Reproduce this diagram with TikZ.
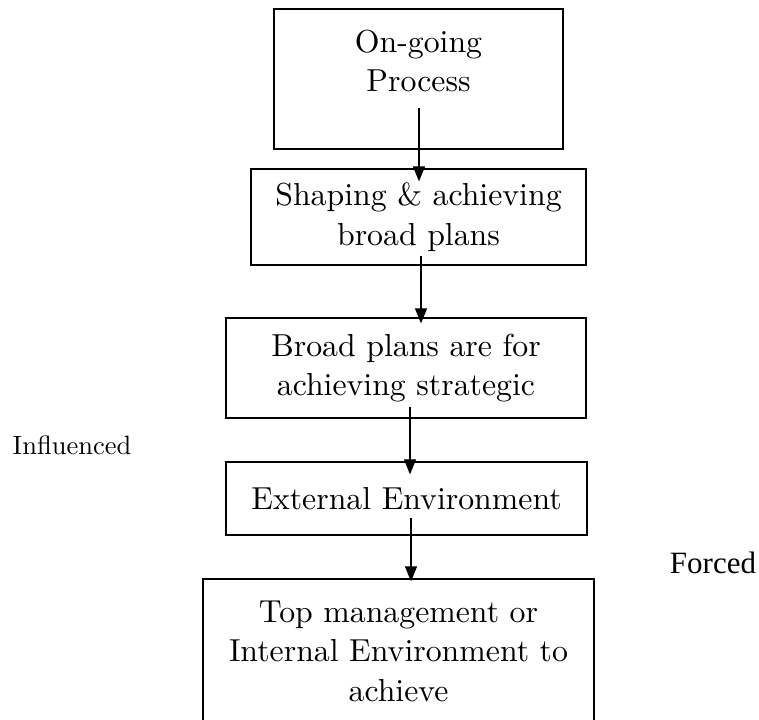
\documentclass[tikz,border=0pt]{standalone}
\usepackage{fontspec}
\setmainfont{lmroman10-regular.otf}
\newfontfamily\timesfont{Liberation Serif}
\usetikzlibrary{arrows.meta}

\begin{document}
\begin{tikzpicture}[x=1pt, y=-1pt,
    box/.style={draw, line width=1.3pt, fill=white, inner sep=0pt},
    txt/.style={align=center, font=\fontsize{31.8}{39.5}\selectfont, inner sep=0pt},
    arr/.style={-{Triangle[length=15pt, width=12pt]}, line width=1.2pt}]

    \clip (0,0) rectangle (759,719);

    % Nodes
    \node[box, minimum width=289pt, minimum height=140pt] (b1) at (418.5,79) {};
    \node[txt] (t1) at (418.5,61) {On-going\\Process};
    \node[box, txt, minimum width=335pt, minimum height=96pt] (b2) at (418.5,217) {Shaping \& achieving\\broad plans};
    \node[box, txt, minimum width=360pt, minimum height=100pt] (b3) at (406,368) {Broad plans are for\\achieving strategic};
    \node[box, txt, minimum width=361pt, minimum height=73pt] (b4) at (406.5,498.5) {External Environment};
    \node[box, txt, minimum width=391pt, minimum height=144pt] (b5) at (398.5,651) {Top management or\\Internal Environment to\\achieve};
    \node[font=\fontsize{26.5}{30}\selectfont] (infl) at (72,445) {Influenced};
    \node[font=\timesfont\fontsize{31}{36}\selectfont] (forc) at (713,563) {Forced};

    % Lines
    \draw[arr] ([xshift=0.5pt, yshift=42pt]b1.south) -- ([xshift=0.5pt, yshift=-13pt]b2.north);
    \draw[arr] ([xshift=2.5pt, yshift=10pt]b2.south) -- ([xshift=15pt, yshift=-6pt]b3.north);
    \draw[arr] ([xshift=4pt, yshift=12pt]b3.south) -- ([xshift=3.5pt, yshift=-13pt]b4.north);
    \draw[arr] ([xshift=4.5pt, yshift=18pt]b4.south) -- ([xshift=12.5pt, yshift=-3pt]b5.north);

\end{tikzpicture}
\end{document}
